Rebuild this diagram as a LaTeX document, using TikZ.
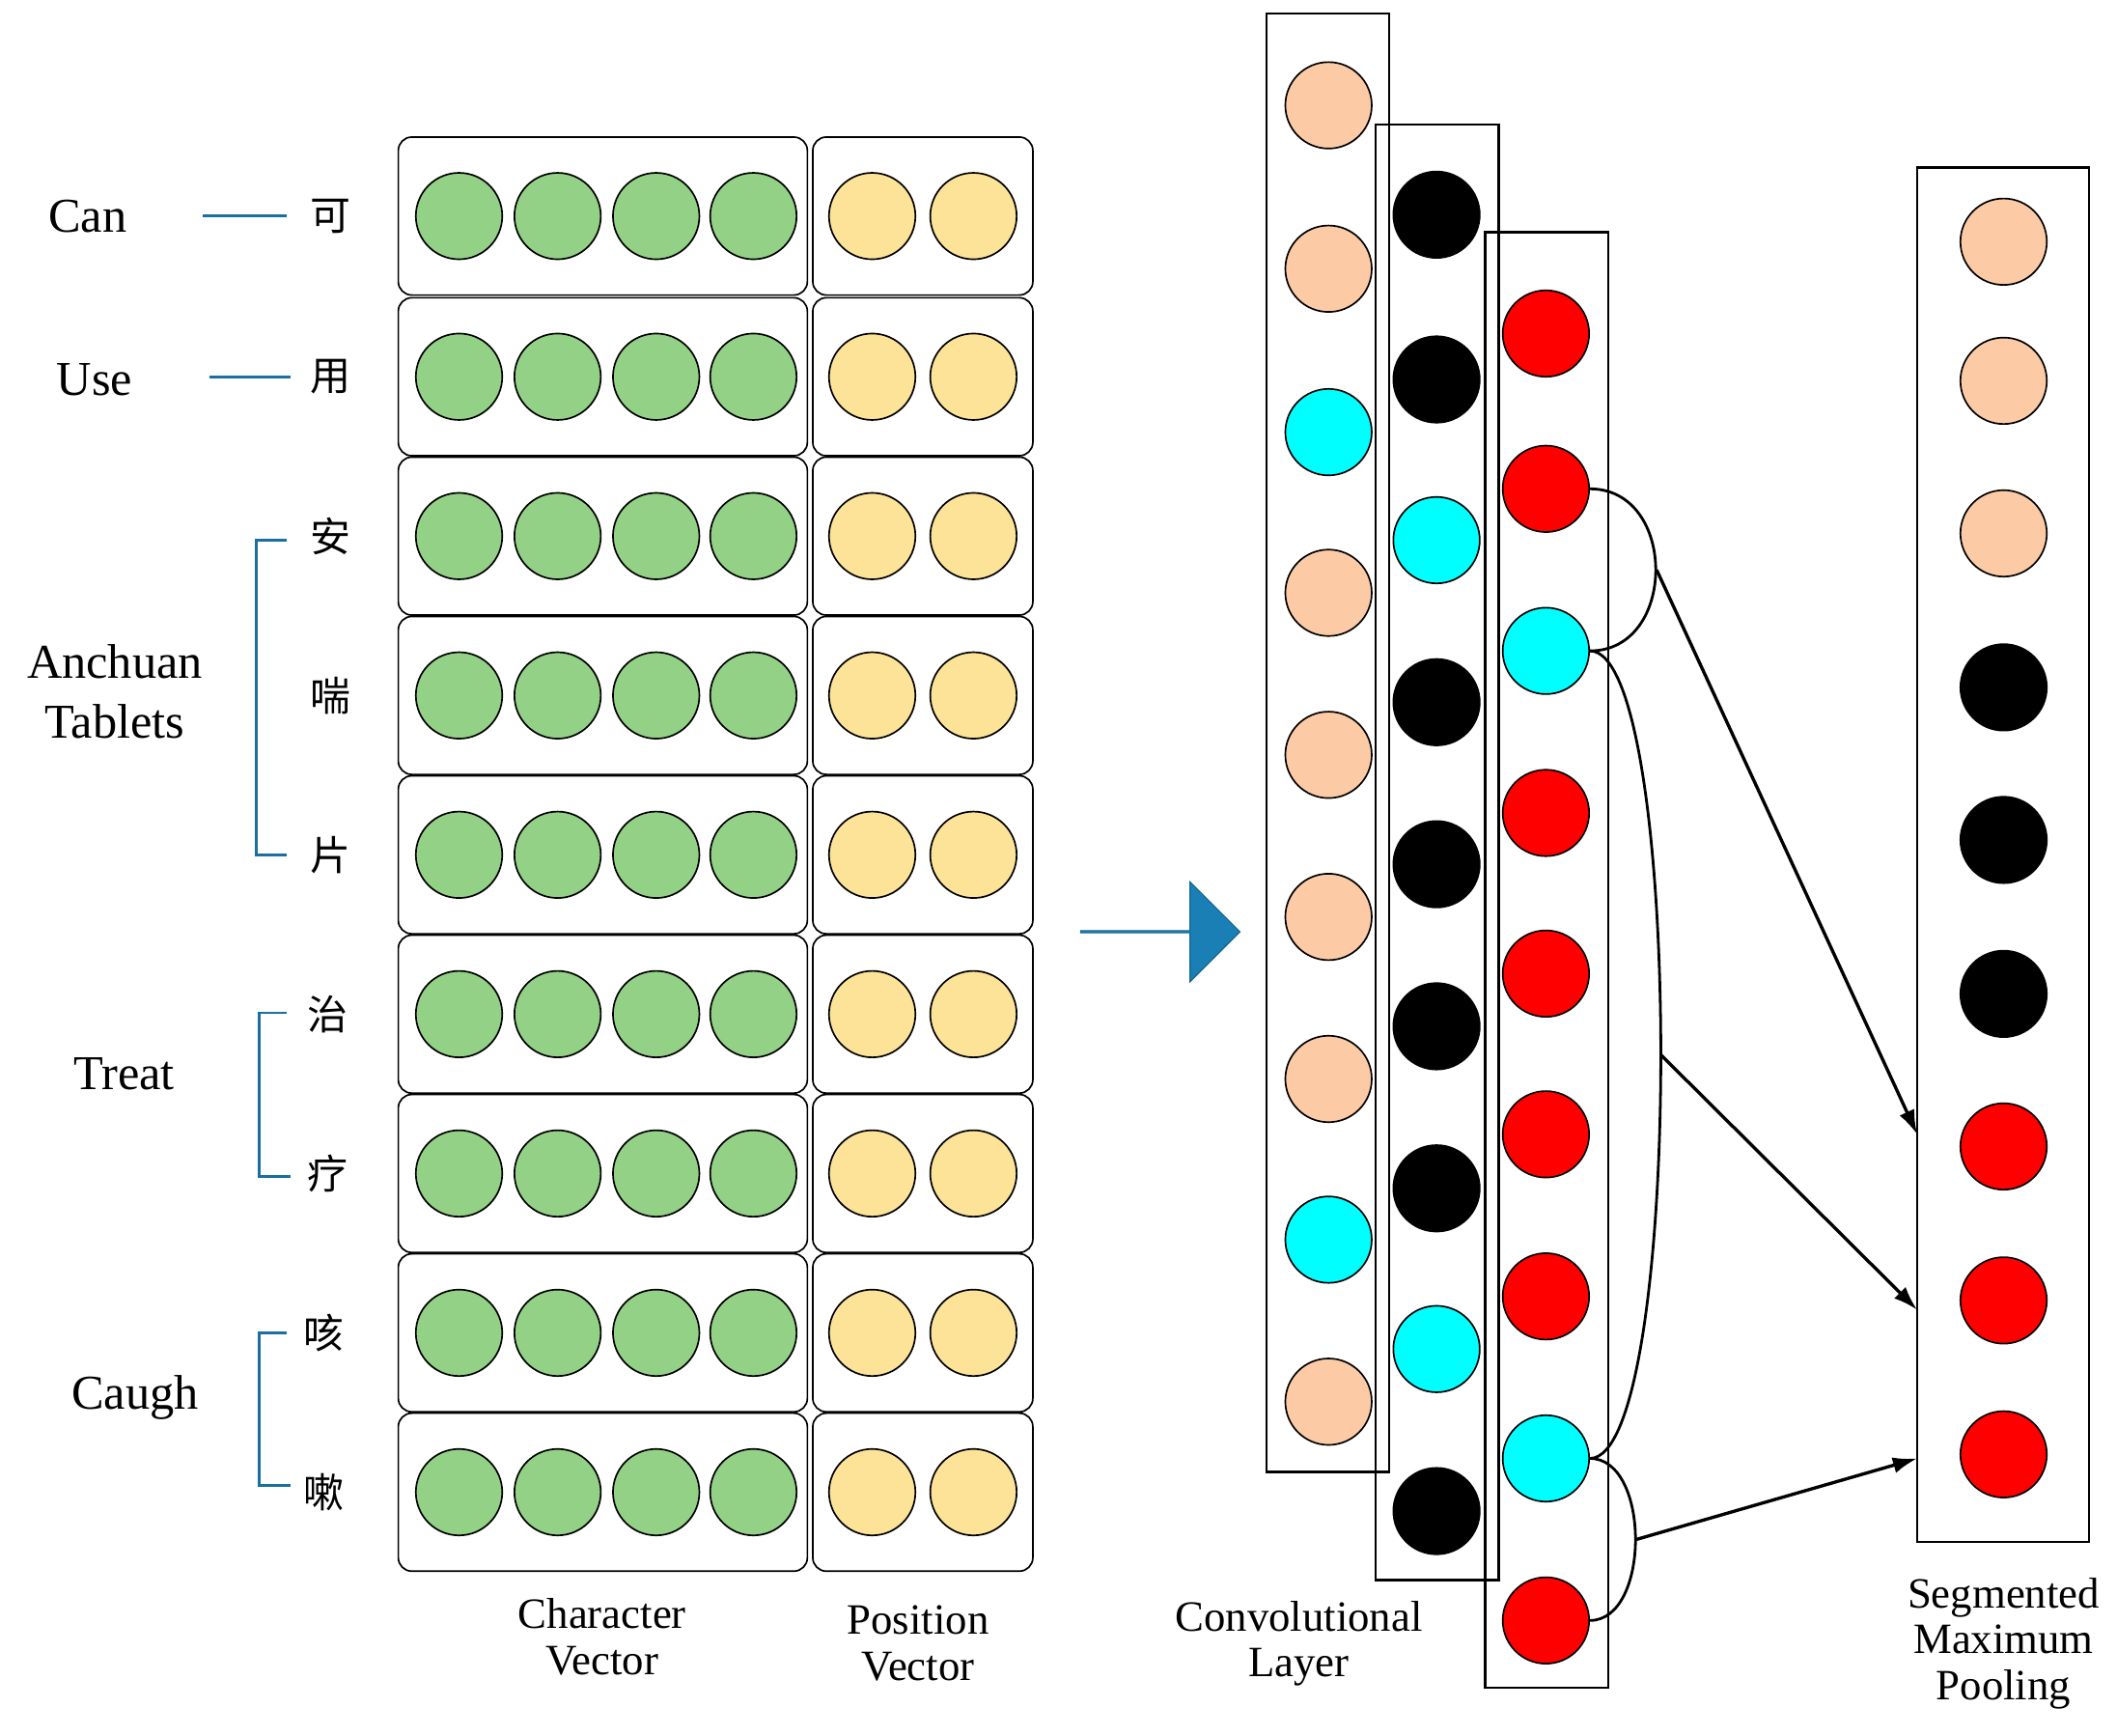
\documentclass[tikz,border=0pt]{standalone}
\usepackage{fontspec}
\setmainfont{Liberation Serif}
\newfontfamily\cjk{Noto Sans CJK SC}
\usetikzlibrary{shapes.arrows,arrows.meta}
\definecolor{gr}{HTML}{93D186}
\definecolor{ye}{HTML}{FDE398}
\definecolor{pe}{HTML}{FCCBA6}
\definecolor{cy}{HTML}{00FFFF}
\definecolor{bl}{HTML}{1A7FB5}
\definecolor{br}{HTML}{1A6FA0}
\begin{document}
\begin{tikzpicture}[x=0.5pt,y=-0.5pt,
  dot/.style={circle,draw=black,line width=0.6pt,minimum size=32pt,inner sep=0},
  box/.style={draw=black,rounded corners=5pt,line width=0.6pt,inner sep=0},
  col/.style={draw=black,line width=0.8pt,inner sep=0},
  lab/.style={font=\fontsize{18}{20}\selectfont,align=center},
  captxt/.style={font=\fontsize{16}{17}\selectfont,align=center},
  ch/.style={font=\cjk\fontsize{15}{16}\selectfont},
  brk/.style={draw=br,line width=1pt},
  arr/.style={-{Latex[length=9pt,width=6pt]},line width=1.2pt}]
\useasboundingbox (0,0) rectangle (1568,1285);
% rows
\foreach \y [count=\i] in {160,279,397,515,633,751,869,987,1105}{
  \node[box,minimum width=151.5pt,minimum height=58.5pt] (cb\i) at (446.5,\y) {};
  \node[box,minimum width=81.5pt,minimum height=58.5pt] (pb\i) at (683.5,\y) {};
  \foreach \x [count=\j] in {340,413,486,558}
    \node[dot,fill=gr] (g\i\j) at (\x,\y) {};
  \node[dot,fill=ye] (y\i a) at (646,\y) {};
  \node[dot,fill=ye] (y\i b) at (721,\y) {};
}
% characters
\node[ch] (k1) at (245,160) {可};
\node[ch] (k2) at (245,279) {用};
\node[ch] (k3) at (245,397) {安};
\node[ch] (k4) at (245,515) {喘};
\node[ch] (k5) at (245,633) {片};
\node[ch] (k6) at (243,751) {治};
\node[ch] (k7) at (243,869) {疗};
\node[ch] (k8) at (240,987) {咳};
\node[ch] (k9) at (240,1105) {嗽};
\node[lab] (wcan) at (65,160) {Can};
\node[lab] (wuse) at (70,281) {Use};
\node[lab,font=\fontsize{18}{22}\selectfont] (wan) at (85,512) {Anchuan\\Tablets};
\node[lab] (wtr) at (92,795) {Treat};
\node[lab] (wca) at (100,1035) {Caugh};
\draw[brk] (150,160) -- (212,160);
\draw[brk] (155,279) -- (215,279);
\draw[brk] (212,400) -- (190,400) -- (190,633) -- (212,633);
\draw[brk] (212,750) -- (192,750) -- (192,871) -- (215,871);
\draw[brk] (212,987) -- (192,987) -- (192,1100) -- (215,1100);
\node[captxt] (t1) at (446,1212) {Character\\Vector};
\node[captxt] (t2) at (680,1217) {Position\\Vector};
\node[captxt] (t3) at (962,1217) {Convolutional\\Layer};
\node[captxt] (t4) at (1484,1217) {Segmented\\Maximum\\Pooling};
% big arrow
\node[single arrow,fill=bl,draw=bl!80!black,minimum height=59pt,minimum width=37pt,
  single arrow head extend=9pt,inner sep=0,single arrow tip angle=90] (big) at (859,690) {};
% columns
\node[col,minimum width=45.5pt,minimum height=540pt] (C1) at (983.5,550) {};
\node[col,minimum width=45.5pt,minimum height=539pt] (C2) at (1064.5,631) {};
\node[col,minimum width=45.5pt,minimum height=539pt] (C3) at (1145.5,711) {};
\node[col,minimum width=63.5pt,minimum height=509pt] (P) at (1483.5,633) {};
\foreach \y/\c [count=\i] in {78/pe,199/pe,320/cy,439/pe,559/pe,679/pe,799/pe,918/cy,1038/pe}
  \node[dot,fill=\c] (a\i) at (984,\y) {};
\foreach \y/\c [count=\i] in {159/black,281/black,400/cy,520/black,640/black,760/black,880/black,999/cy,1119/black}
  \node[dot,fill=\c] (b\i) at (1064,\y) {};
\foreach \y/\c [count=\i] in {247/red,362/red,482/cy,602/red,721/red,840/red,960/red,1080/cy,1200/red}
  \node[dot,fill=\c] (c\i) at (1145,\y) {};
\foreach \y/\c [count=\i] in {179/pe,282/pe,395/pe,509/black,622/black,736/black,849/red,963/red,1077/red}
  \node[dot,fill=\c] (p\i) at (1484,\y) {};
% connectors
\draw[line width=1pt] (c2.east) .. controls +(65,0) and +(65,0) .. (c3.east);
\draw[line width=1pt] (c3.east) .. controls +(70,0) and +(70,0) .. (c8.east);
\draw[line width=1pt] (c8.east) .. controls +(45,0) and +(45,0) .. (c9.east);
\coordinate (j1) at (1227,422);
\coordinate (j2) at (1230,781);
\coordinate (j3) at (1212,1140);
\coordinate (e1) at (1420,840);
\coordinate (e2) at (1420,970);
\coordinate (e3) at (1420,1080);
\draw[arr] (j1) -- (e1);
\draw[arr] (j2) -- (e2);
\draw[arr] (j3) -- (e3);
\end{tikzpicture}
\end{document}
